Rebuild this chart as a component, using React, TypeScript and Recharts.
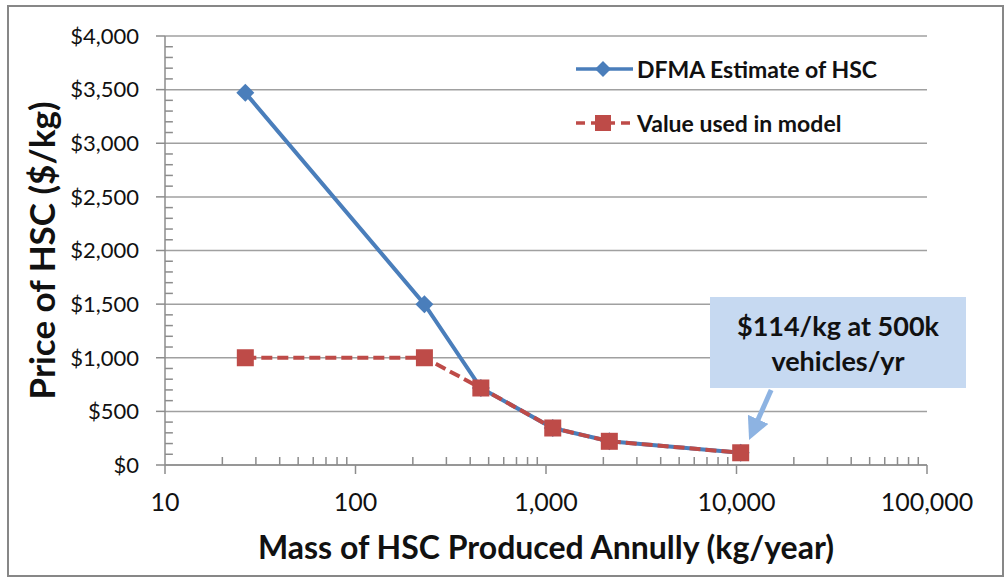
import { LineChart, Line, XAxis, YAxis, CartesianGrid, Legend, ReferenceLine } from "recharts";

// values
const massKgPerYear = [26.4, 230, 455, 1085, 2150, 10520];
const dfmaEstimate = [3470, 1500, 718, 345, 221, 114];
const modelValue = [1000, 1000, 718, 345, 221, 114];

const xMajorTicks = [10, 100, 1000, 10000, 100000];
const xMinorTicks = [10, 100, 1000, 10000].flatMap((d) => [2, 3, 4, 5, 6, 7, 8, 9].map((m) => m * d));
const yMajorTicks = [0, 500, 1000, 1500, 2000, 2500, 3000, 3500, 4000];
const yMinorTicks = Array.from({ length: 41 }, (_, i) => i * 100).filter((v) => v % 500 !== 0);
// y minor tick marks run from the axis (x=10) a short way into the plot
const yMinorTickEnd = 11;

const calloutLines = ["$114/kg at 500k", "vehicles/yr"];
// arrow from callout box down to the last point (data coords)
const arrowFrom = { x: 15200, y: 700 };
const arrowTo = { x: 12300, y: 330 };

const data = massKgPerYear.map((m, i) => ({ mass: m, dfma: dfmaEstimate[i], model: modelValue[i] }));

const FONT = "Lato, 'Noto Sans', sans-serif";
const BLUE = "#4a7ebb";
const RED = "#be4b48";
const GRID = "#a0a0a0";
const AXIS = "#8c8c8c";

function Diamond(props: any) {
  const { cx, cy } = props;
  if (cx == null || cy == null) return null;
  const r = 9;
  return <polygon points={`${cx},${cy - r} ${cx + r},${cy} ${cx},${cy + r} ${cx - r},${cy}`} fill={BLUE} />;
}

function Square(props: any) {
  const { cx, cy } = props;
  if (cx == null || cy == null) return null;
  const s = 17;
  return <rect x={cx - s / 2} y={cy - s / 2} width={s} height={s} fill={RED} />;
}

// minor axis: tick marks only, no labels
function NoLabel() {
  return <g />;
}

function LegendBox(props: any) {
  const items = props.payload || [];
  return (
    <div style={{ fontFamily: FONT }}>
      {items.map((it: any) => {
        const dashed = it.dataKey === "model";
        return (
          <div key={it.value} style={{ height: 54, display: "flex", alignItems: "center" }}>
            <svg width={62} height={20}>
              <line x1={1} x2={58} y1={10} y2={10} stroke={it.color} strokeWidth={3.5}
                strokeDasharray={dashed ? "9 6" : undefined} />
              {dashed ? (
                <rect x={20} y={2} width={16} height={16} fill={RED} />
              ) : (
                <polygon points="28,2 36,10 28,18 20,10" fill={BLUE} />
              )}
            </svg>
            <span style={{ fontSize: 23, fontWeight: 700, color: "#111" }}>{it.value}</span>
          </div>
        );
      })}
    </div>
  );
}

export default function App() {
  return (
    <div style={{ position: "absolute", left: 0, top: 0, width: 1005, height: 581, background: "#fff", fontFamily: FONT }}>
      <div style={{ position: "absolute", left: 7, top: 5, width: 997, height: 572, boxSizing: "border-box", border: "2px solid #878787" }} />
      <LineChart width={1005} height={581} data={data} margin={{ top: 36, right: 78, left: 5, bottom: 16 }}>
        <defs>
          <marker id="arrowHead" viewBox="0 0 10 10" refX="5" refY="5" markerWidth="4.5" markerHeight="4.5" orient="auto">
            <path d="M0,0 L10,5 L0,10 z" fill="#8db3e2" />
          </marker>
        </defs>
        <CartesianGrid vertical={false} stroke={GRID} strokeWidth={1.5} />
        <XAxis
          dataKey="mass"
          type="number"
          scale="log"
          domain={[10, 100000]}
          allowDataOverflow
          ticks={xMajorTicks}
          interval={0}
          height={100}
          tickSize={9}
          tickMargin={19}
          stroke={AXIS}
          strokeWidth={1.5}
          tick={{ fill: "#111", fontSize: 25, fontFamily: FONT }}
          tickFormatter={(v: number) => v.toLocaleString("en-US")}
          label={{ value: "Mass of HSC Produced Annully (kg/year)", position: "insideBottom", offset: 6, fill: "#111", fontSize: 32, fontWeight: 700, fontFamily: FONT }}
        />
        <XAxis
          xAxisId="minor"
          dataKey="mass"
          type="number"
          scale="log"
          domain={[10, 100000]}
          allowDataOverflow
          ticks={xMinorTicks}
          interval={0}
          mirror
          axisLine={false}
          tick={<NoLabel />}
          tickSize={8}
          stroke={AXIS}
          strokeWidth={1.5}
        />
        <YAxis
          type="number"
          domain={[0, 4000]}
          ticks={yMajorTicks}
          interval={0}
          width={160}
          tickSize={9}
          tickMargin={17}
          stroke={AXIS}
          strokeWidth={1.5}
          tick={{ fill: "#111", fontSize: 22, fontFamily: FONT }}
          tickFormatter={(v: number) => "$" + v.toLocaleString("en-US")}
          label={{ value: "Price of HSC ($/kg)", angle: -90, position: "insideLeft", offset: 38, fill: "#111", fontSize: 35, fontWeight: 700, fontFamily: FONT, style: { textAnchor: "middle" } }}
        />
        {yMinorTicks.map((v) => (
          <ReferenceLine
            key={v}
            segment={[{ x: 10, y: v }, { x: yMinorTickEnd, y: v }]}
            stroke={AXIS}
            strokeWidth={1.5}
          />
        ))}
        <Line dataKey="dfma" name="DFMA Estimate of HSC" stroke={BLUE} strokeWidth={4} dot={<Diamond />} activeDot={false} isAnimationActive={false} />
        <Line dataKey="model" name="Value used in model" stroke={RED} strokeWidth={4} strokeDasharray="11 5" dot={<Square />} activeDot={false} isAnimationActive={false} />
        <ReferenceLine
          segment={[arrowFrom, arrowTo]}
          stroke="#8db3e2"
          strokeWidth={5}
          markerEnd="url(#arrowHead)"
          ifOverflow="visible"
        />
        <Legend
          layout="vertical"
          align="center"
          verticalAlign="middle"
          content={<LegendBox />}
          wrapperStyle={{ left: 575, top: 42, width: 330 }}
        />
      </LineChart>
      <div
        style={{
          position: "absolute",
          left: 710,
          top: 297,
          width: 256,
          height: 91,
          background: "#c6d9f1",
          display: "flex",
          flexDirection: "column",
          justifyContent: "center",
          alignItems: "center",
          fontSize: 27,
          fontWeight: 700,
          lineHeight: "35px",
          color: "#111",
        }}
      >
        {calloutLines.map((t) => (
          <div key={t}>{t}</div>
        ))}
      </div>
    </div>
  );
}
